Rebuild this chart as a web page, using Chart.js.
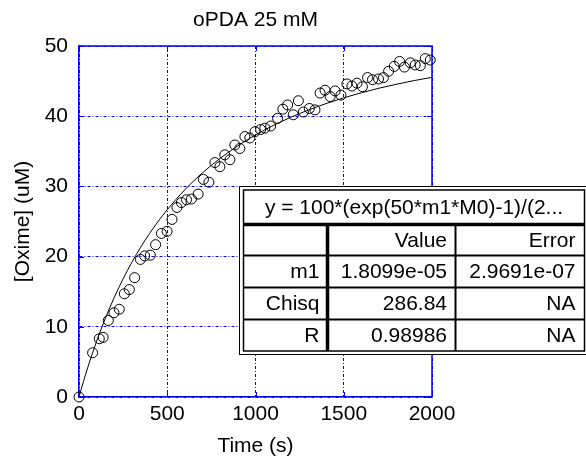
<!DOCTYPE html>
<html><head><meta charset="utf-8">
<script src="https://cdn.jsdelivr.net/npm/chart.js@4/dist/chart.umd.min.js"></script>
<style>html,body{margin:0;padding:0;background:#fff;}</style>
</head><body>
<canvas id="c" width="586" height="463"></canvas>
<script>
// ---- data ----
const timeS = [0,77,115,137,166,198,228,257,285,315,348,372,404,434,467,499,527,555,580,609,637,675,705,736,770,798,826,855,883,911,940,968,997,1029,1053,1086,1125,1155,1182,1214,1243,1271,1305,1337,1366,1394,1423,1451,1484,1518,1546,1575,1606,1635,1663,1697,1725,1754,1786,1816,1844,1877,1905,1934,1962,1990];
const oxime = [0,6.3,8.3,8.5,10.9,12.0,12.5,14.7,15.3,17.0,19.6,20.1,20.2,21.7,23.3,23.6,25.3,27.0,27.7,28.1,28.2,28.9,31.0,30.6,33.4,32.8,34.5,33.8,35.9,35.4,37.1,36.9,37.8,38.1,38.3,38.6,39.7,41.0,41.6,40.2,42.2,40.6,41.1,40.9,43.3,43.7,42.8,43.6,43.0,44.6,44.3,44.7,44.2,45.5,45.2,45.3,45.5,46.4,47.1,47.8,47.0,47.6,47.3,47.2,48.2,48.0];
const fitTime = [0,25,50,100,150,200,250,300,350,400,450,500,600,700,800,900,1000,1100,1200,1300,1400,1500,1600,1700,1800,1900,2000];
const fitOxime = [0,2.19,4.24,7.96,11.26,14.20,16.84,19.21,21.35,23.30,25.07,26.68,29.53,31.94,34.00,35.78,37.32,38.67,39.85,40.88,41.80,42.62,43.34,43.99,44.56,45.08,45.54];
const xTicks = [0,500,1000,1500,2000];
const yTicks = [0,10,20,30,40,50];
const xTickLabels = ['0','500','1000','1500','2000'];
const yTickLabels = ['0','10','20','30','40','50'];
const chartTitle = 'oPDA 25 mM';
const xTitle = 'Time (s)';
const yTitle = '[Oxime] (uM)';
const fitEquation = 'y = 100*(exp(50*m1*M0)-1)/(2...';
const tableHead = ['', 'Value', 'Error'];
const tableRows = [['m1','1.8099e-05','2.9691e-07'],['Chisq','286.84','NA'],['R','0.98986','NA']];

const FONT = 'Liberation Sans, Arial, Helvetica, sans-serif';
const BLUE = '#0000ff';

const pts = timeS.map((t,i)=>({x:t,y:oxime[i]}));
const fit = fitTime.map((t,i)=>({x:t,y:fitOxime[i]}));

const decor = {
  id:'decor',
  afterDatasetsDraw(chart){
    const {ctx, chartArea:a, scales:{x,y}} = chart;
    ctx.save();
    ctx.strokeStyle = BLUE; ctx.lineWidth = 1.5;
    ctx.beginPath();
    ctx.moveTo(a.left, a.top); ctx.lineTo(a.right, a.top); ctx.lineTo(a.right, a.bottom);
    ctx.stroke();
    ctx.lineWidth = 1;
    ctx.beginPath();
    xTicks.forEach(v=>{const p=Math.round(x.getPixelForValue(v))+0.5; ctx.moveTo(p,a.bottom); ctx.lineTo(p,a.bottom-5); ctx.moveTo(p,a.top); ctx.lineTo(p,a.top+5);});
    yTicks.forEach(v=>{const p=Math.round(y.getPixelForValue(v))+0.5; ctx.moveTo(a.left,p); ctx.lineTo(a.left+5,p); ctx.moveTo(a.right,p); ctx.lineTo(a.right-5,p);});
    ctx.stroke();
    ctx.restore();
  },
  afterDraw(chart){
    const ctx = chart.ctx;
    ctx.save();
    ctx.fillStyle = '#000';
    ctx.font = '21px ' + FONT;
    ctx.textAlign = 'center'; ctx.textBaseline = 'middle';
    ctx.fillText(chartTitle, (chart.chartArea.left+chart.chartArea.right)/2, 20);
    // fit result table
    const X0=239.5, X1=590, Y0=186.5, Y1=354.5;
    const IX0=243.5, IX1=584.5, IY0=190, IY1=351;
    const rowsY=[190,224.5,255.5,287.5,319.5,351];
    const colsX=[243.5,327.5,455.5,584.5];
    ctx.fillStyle='#fff';
    ctx.fillRect(X0,Y0,X1-X0,Y1-Y0);
    ctx.strokeStyle='#000';
    ctx.lineWidth=1; ctx.strokeRect(X0,Y0,X1-X0,Y1-Y0);
    ctx.lineWidth=1.5; ctx.strokeRect(IX0,IY0,IX1-IX0,IY1-IY0);
    ctx.beginPath(); ctx.lineWidth=3.5; ctx.moveTo(IX0,rowsY[1]); ctx.lineTo(IX1,rowsY[1]); ctx.stroke();
    ctx.beginPath(); ctx.lineWidth=2;
    [2,3,4].forEach(i=>{ctx.moveTo(IX0,rowsY[i]); ctx.lineTo(IX1,rowsY[i]);});
    ctx.moveTo(colsX[2],rowsY[1]); ctx.lineTo(colsX[2],IY1);
    ctx.stroke();
    ctx.beginPath(); ctx.lineWidth=3.5; ctx.moveTo(colsX[1],rowsY[1]); ctx.lineTo(colsX[1],IY1); ctx.stroke();
    ctx.fillStyle='#000';
    ctx.font='21px ' + FONT;
    ctx.textAlign='center'; ctx.textBaseline='middle';
    ctx.fillText(fitEquation,(IX0+IX1)/2, 208);
    ctx.textAlign='right';
    const rights=[319.5,447,575.5];
    const rowsData=[tableHead].concat(tableRows);
    rowsData.forEach((r,ri)=>{
      const cy=(rowsY[ri+1]+rowsY[ri+2])/2+1;
      r.forEach((txt,ci)=>{ if(txt) ctx.fillText(txt, rights[ci], cy); });
    });
    ctx.restore();
  }
};

new Chart(document.getElementById('c'), {
  type:'scatter',
  data:{datasets:[
    {data:fit, showLine:true, pointRadius:0, borderColor:'#000', borderWidth:1, cubicInterpolationMode:'monotone', fill:false},
    {data:pts, showLine:false, pointStyle:'circle', pointRadius:5, pointBorderWidth:1, borderColor:'#000', backgroundColor:'rgba(0,0,0,0)', clip:false}
  ]},
  options:{
    responsive:false, animation:false, devicePixelRatio:1,
    layout:{padding:{top:46,right:154,left:0,bottom:0}},
    plugins:{legend:{display:false}, tooltip:{enabled:false}, title:{display:false}},
    scales:{
      x:{type:'linear', min:0, max:2000,
        afterBuildTicks(s){ s.ticks = xTicks.map(v=>({value:v})); },
        afterFit(s){ s.height = 66; },
        grid:{color:BLUE, lineWidth:1, drawTicks:false},
        border:{color:BLUE, width:1.5, dash:[3,2,1,2]},
        ticks:{padding:5, color:'#000', font:{family:FONT,size:21}, maxRotation:0,
          callback:(v)=>{const i=xTicks.indexOf(v); return i>=0?xTickLabels[i]:'';}},
        title:{display:true, text:xTitle, color:'#000', font:{family:FONT,size:21}, padding:{top:0,bottom:4}}
      },
      y:{type:'linear', min:0, max:50,
        afterBuildTicks(s){ s.ticks = yTicks.map(v=>({value:v})); },
        afterFit(s){ s.width = 79; },
        grid:{color:BLUE, lineWidth:1, drawTicks:false},
        border:{color:BLUE, width:1.5, dash:[3,2,1,2]},
        ticks:{padding:11, color:'#000', font:{family:FONT,size:21},
          callback:(v)=>{const i=yTicks.indexOf(v); return i>=0?yTickLabels[i]:'';}},
        title:{display:true, text:yTitle, color:'#000', font:{family:FONT,size:21}, padding:{top:11,bottom:0}}
      }
    }
  },
  plugins:[decor]
});
</script>
</body></html>
